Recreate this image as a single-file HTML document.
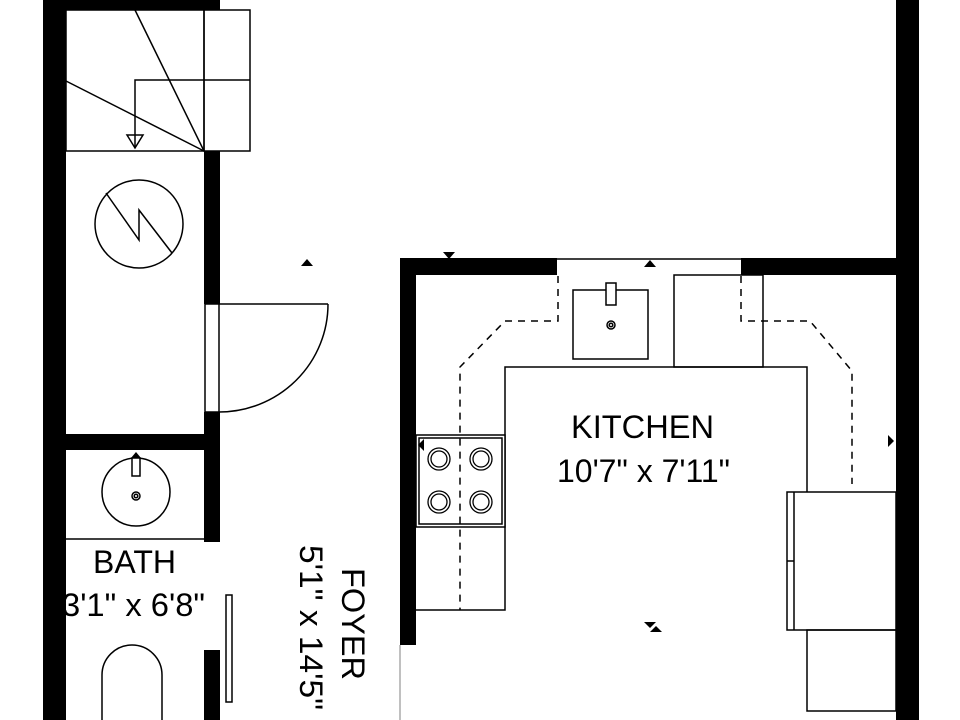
<!DOCTYPE html>
<html><head><style>html,body{margin:0;padding:0;background:#fff}svg{display:block}</style></head>
<body>
<svg width="960" height="720" viewBox="0 0 960 720" xmlns="http://www.w3.org/2000/svg" font-family="Liberation Sans, sans-serif">
<rect width="960" height="720" fill="#fff"/>
<g fill="none" stroke="#000" stroke-width="1.5">
<rect x="66" y="10" width="138" height="141"/>
<rect x="204" y="10" width="46" height="141"/>
<line x1="204" y1="80" x2="250" y2="80"/>
<line x1="135" y1="10" x2="204" y2="151"/>
<line x1="66" y1="81" x2="204" y2="151"/>
<polyline points="204,80 135,80 135,148"/>
<polygon points="127,135 143,135 135,148"/>
<circle cx="139" cy="224" r="44"/>
<polyline points="106,193 139,240 139,210 172,253"/>
<rect x="205" y="304" width="14" height="108"/>
<line x1="219" y1="304" x2="328" y2="304"/>
<path d="M328,304 A109,108 0 0 1 219,412"/>
<circle cx="136" cy="492" r="34"/>
<rect x="132" y="458" width="8" height="18" fill="#fff"/>
<circle cx="136" cy="496" r="4"/>
<circle cx="136" cy="496" r="1.8"/>
<line x1="66" y1="539" x2="204" y2="539"/>
<rect x="226" y="595" width="6" height="107"/>
<path d="M102,720 V675 A30,30 0 0 1 162,675 V720"/>
<line x1="557" y1="259" x2="741" y2="259"/>
<rect x="573" y="290" width="75" height="69"/>
<rect x="606" y="283" width="10" height="22" fill="#fff"/>
<circle cx="611" cy="325" r="4"/>
<circle cx="611" cy="325" r="1.8"/>
<rect x="674" y="275" width="89" height="92"/>
<polyline points="416,610 505,610 505,367 807,367 807,492"/>
<rect x="416" y="435" width="89" height="92" fill="#fff"/>
<rect x="419" y="438" width="83" height="86"/>
<rect x="787" y="492" width="109" height="138"/>
<line x1="794" y1="492" x2="794" y2="630"/>
<line x1="787" y1="561" x2="794" y2="561"/>
<rect x="807" y="630" width="89" height="81"/>
<line x1="400" y1="645" x2="400" y2="720" stroke="#aaa"/>
</g>
<g fill="none" stroke="#000" stroke-width="1.3">
<circle cx="439" cy="459" r="11"/><circle cx="439" cy="459" r="8"/>
<circle cx="481" cy="459" r="11"/><circle cx="481" cy="459" r="8"/>
<circle cx="439" cy="502" r="11"/><circle cx="439" cy="502" r="8"/>
<circle cx="481" cy="502" r="11"/><circle cx="481" cy="502" r="8"/>
</g>
<g fill="none" stroke="#000" stroke-width="1.5" stroke-dasharray="7,6">
<polyline points="558,276 558,321 505,321 460,367 460,610"/>
<polyline points="741,276 741,321 810,321 852,371 852,484"/>
</g>
<g fill="#000">
<rect x="43" y="0" width="23" height="720"/>
<rect x="43" y="0" width="177" height="10"/>
<rect x="204" y="151" width="16" height="153"/>
<rect x="204" y="412" width="16" height="38"/>
<rect x="43" y="434" width="177" height="16"/>
<rect x="204" y="450" width="16" height="92"/>
<rect x="204" y="650" width="16" height="70"/>
<rect x="400" y="258" width="157" height="17"/>
<rect x="400" y="258" width="16" height="387"/>
<rect x="741" y="258" width="155" height="17"/>
<rect x="896" y="0" width="23" height="720"/>
<polygon points="301,266 313,266 307,259"/>
<polygon points="443,252 455,252 449,259"/>
<polygon points="644,267 656,267 650,260"/>
<polygon points="888,435 888,447 894,441"/>
<polygon points="424,439 424,451 418,445"/>
<polygon points="644,622 656,622 650,628"/>
<polygon points="650,632 662,632 656,626"/>
<polygon points="131,458 141,458 136,452"/>
</g>
<g fill="#000" font-size="32">
<text x="571" y="438" textLength="143" lengthAdjust="spacingAndGlyphs">KITCHEN</text>
<text x="557" y="482" textLength="173" lengthAdjust="spacingAndGlyphs">10'7" x 7'11"</text>
<text x="93" y="573" textLength="83" lengthAdjust="spacingAndGlyphs">BATH</text>
<text x="62" y="616" textLength="143" lengthAdjust="spacingAndGlyphs">3'1" x 6'8"</text>
<text transform="translate(342,568) rotate(90)" textLength="112" lengthAdjust="spacingAndGlyphs">FOYER</text>
<text transform="translate(300,545) rotate(90)" textLength="165" lengthAdjust="spacingAndGlyphs">5'1" x 14'5"</text>
</g>
<rect x="43" y="585" width="23" height="40" fill="#000"/>
</svg>
</body></html>
